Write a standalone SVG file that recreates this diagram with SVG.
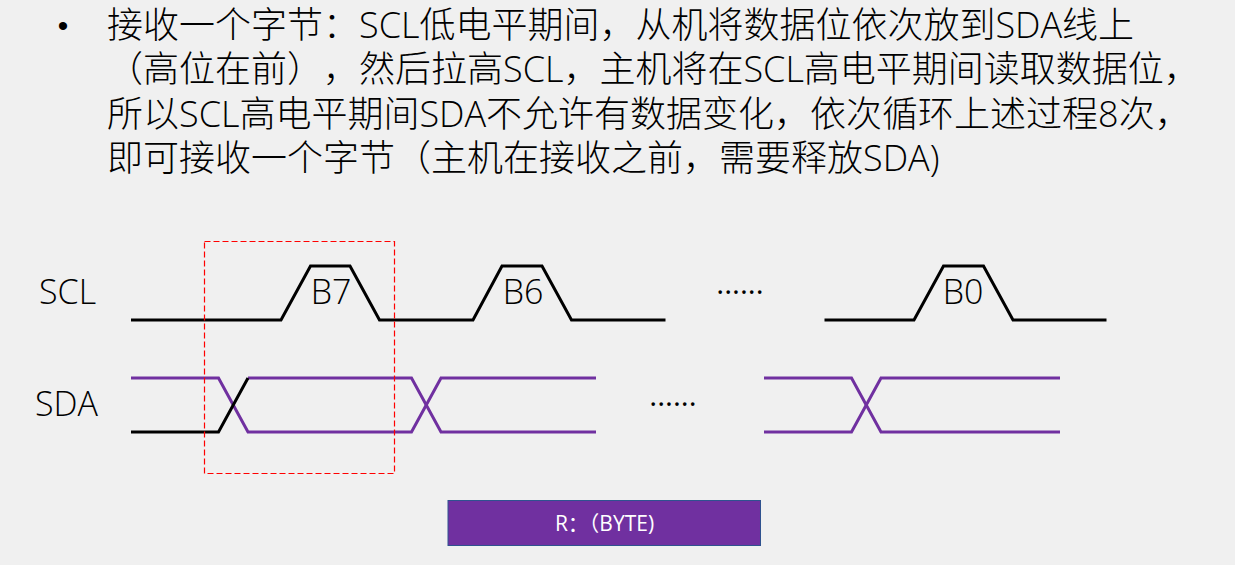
<svg xmlns="http://www.w3.org/2000/svg" width="1235" height="565" viewBox="0 0 1235 565">
<style>
.title{font-family:"Open Sans","Noto Sans CJK SC",sans-serif;font-size:36px;font-weight:300;fill:#000;text-spacing-trim:space-all}
.lbl{font-family:"Open Sans","Noto Sans CJK SC",sans-serif;font-size:34px;font-weight:300;fill:#000}
.dots{font-family:"Open Sans",sans-serif;font-size:30px;fill:#000}
.scl{fill:none;stroke:#000;stroke-width:3;stroke-linejoin:miter}
.sda{fill:none;stroke:#7030A0;stroke-width:3}
.blk{fill:none;stroke:#000;stroke-width:3}
</style>
<rect width="1235" height="565" fill="#F0F0F0"/>
<g id="title">
<text x="63" y="36" text-anchor="middle" style="font-family:'Liberation Sans',sans-serif;font-size:30px">•</text>
<text x="107" y="38" class="title">接收一个字节：SCL低电平期间，从机将数据位依次放到SDA线上</text>
<text x="107" y="82" class="title">（高位在前），然后拉高SCL，主机将在SCL高电平期间读取数据位，</text>
<text x="107" y="127" class="title">所以SCL高电平期间SDA不允许有数据变化，依次循环上述过程8次，</text>
<text x="107" y="171" class="title">即可接收一个字节（主机在接收之前，需要释放SDA)</text>
</g>
<g id="labels">
<text x="39" y="304" class="lbl">SCL</text>
<text x="35" y="416" class="lbl">SDA</text>
<text x="331" y="304" class="lbl" text-anchor="middle">B7</text>
<text x="523" y="304" class="lbl" text-anchor="middle">B6</text>
<text x="963" y="304" class="lbl" text-anchor="middle">B0</text>
<text x="740" y="294" class="dots" text-anchor="middle">......</text>
<text x="673" y="406" class="dots" text-anchor="middle">......</text>
</g>
<g id="connectors">
<path class="scl" d="M131,320 H281 L310.5,266 H350 L379.5,320 H473 L502,266 H542 L571.5,320 H665.5"/>
<path class="scl" d="M824.5,320 H914 L943.5,266 H983.5 L1013,320 H1106.5"/>
<path class="sda" d="M131,378 H218.5 L248,432 H411.5 L441,378 H596"/>
<path class="sda" d="M248,378 H411.5 L441,432 H596"/>
<path class="blk" d="M131,432 H218.5 L248,378"/>
<path class="sda" d="M764,378 H851.5 L881,432 H1060"/>
<path class="sda" d="M764,432 H851.5 L881,378 H1060"/>
</g>
<g id="highlight">
<rect x="204.5" y="241.5" width="190" height="232" fill="none" stroke="#FF0000" stroke-width="1.2" stroke-dasharray="6,3"/>
</g>
<g id="byte-box">
<rect x="448" y="500.5" width="312.5" height="45" fill="#7030A0" stroke="#2F528F" stroke-width="1"/>
<text x="604.5" y="531" font-family="'Open Sans','Noto Sans CJK SC',sans-serif" font-size="21" fill="#FFFFFF" text-anchor="middle">R：（BYTE)</text>
</g>
</svg>
